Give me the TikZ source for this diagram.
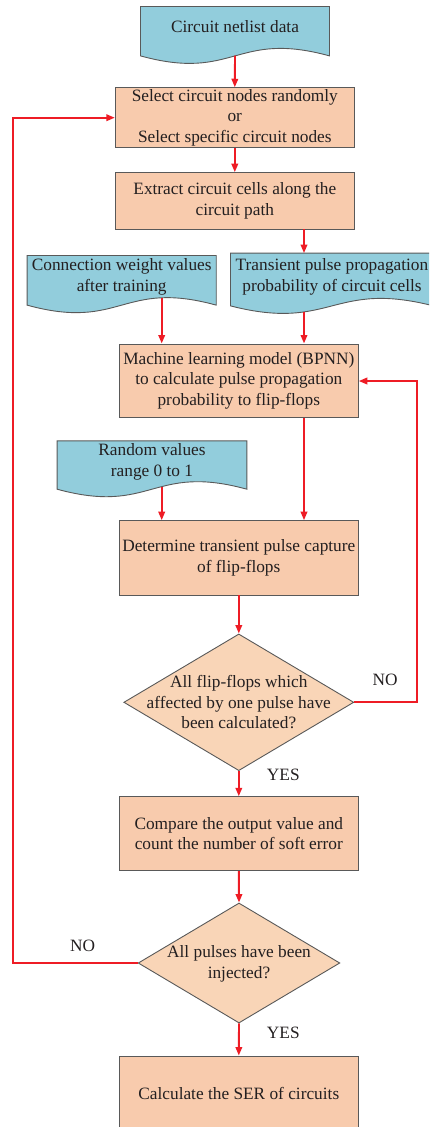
\documentclass[tikz,border=0pt]{standalone}
\usepackage{fontspec}
\setmainfont{Liberation Serif}
\usetikzlibrary{arrows.meta,calc,shapes.geometric}
\definecolor{docblue}{HTML}{92CDDC}
\definecolor{procorange}{HTML}{F8CBAD}
\definecolor{decorange}{HTML}{F9D5B7}
\definecolor{edgegray}{HTML}{595959}
\definecolor{flowred}{HTML}{EE1C25}
\definecolor{inkcol}{HTML}{231F20}
% wavy-bottomed document symbol drawn around an empty frame node
\newcommand\docshape[1]{%
  \filldraw[docfill] (#1.north west) -- (#1.north east) -- (#1.south east)
    .. controls ($(#1.south)+(0,-26)$) and ($(#1.south)+(0,26)$) .. (#1.south west) -- cycle;}
\begin{document}
\begin{tikzpicture}[x=1pt,y=-1pt,
  every node/.style={font=\fontsize{17.3}{20.7}\selectfont, text=inkcol},
  txt/.style={align=center, inner sep=0pt},
  frame/.style={draw=none, inner sep=0pt},
  docfill/.style={fill=docblue, draw=edgegray, line width=0.9pt},
  process/.style={rectangle, draw=edgegray, fill=procorange, line width=0.9pt,
    minimum width=239pt, align=center, inner sep=0pt},
  decision/.style={diamond, draw=edgegray, fill=decorange, line width=0.9pt, inner sep=0pt},
  arr/.style={draw=flowred, line width=1.9pt, -{Triangle[length=8.5pt,width=6.5pt]}},
  tag/.style={inner sep=0pt}]
\clip (0,0) rectangle (429,1127);

% document symbols
\node[frame, minimum width=188.6pt, minimum height=49pt] (netb) at (235,31.2) {};
\docshape{netb}
\node[txt] (net) at (235,26.7) {Circuit netlist data};

\node[frame, minimum width=188.7pt, minimum height=49.3pt] (connb) at (121.7,280.3) {};
\docshape{connb}
\node[txt] (conn) at (121.7,277.2) {Connection weight values\\after training};

\node[frame, minimum width=202.6pt, minimum height=52.4pt] (transb) at (332,279.5) {};
\docshape{transb}
\node[txt] (trans) at (332,277) {Transient pulse propagation\\probability of circuit cells};

\node[frame, minimum width=189.4pt, minimum height=48pt] (randb) at (152,465) {};
\docshape{randb}
\node[txt] (rand) at (152,462) {Random values\\range 0 to 1};

% process boxes
\node[process, minimum height=60pt] (sel) at (234.8,117.7)
  {Select circuit nodes randomly\\or\\Select specific circuit nodes};
\node[process, minimum height=56.3pt] (ext) at (234.8,200.8)
  {Extract circuit cells along the\\circuit path};
\node[process, minimum height=73.7pt] (ml) at (238.8,380.8)
  {Machine learning model (BPNN)\\to calculate pulse propagation\\probability to flip-flops};
\node[process, minimum height=74.3pt] (det) at (238.8,557.8)
  {Determine transient pulse capture\\of flip-flops};
\node[process, minimum height=74pt] (cmp) at (238.8,833.7)
  {Compare the output value and\\count the number of soft error};
\node[process, minimum height=74pt] (ser) at (238.8,1093)
  {Calculate the SER of circuits};

% decisions
\node[decision, minimum width=230pt, minimum height=136.7pt] (d1) at (238.8,702.3) {};
\node[txt] (d1t) at (d1.center) {All flip-flops which\\affected by one pulse have\\been calculated?};
\node[decision, minimum width=201.7pt, minimum height=120pt] (d2) at (239,963) {};
\node[txt] (d2t) at (239,964) {All pulses have been\\injected?};

% branch labels
\node[tag] (no1) at (385,680) {NO};
\node[tag] (yes1) at (283.3,775) {YES};
\node[tag] (no2) at (82.7,946) {NO};
\node[tag] (yes2) at (283.3,1033.3) {YES};

% connector anchor points
\coordinate (netout) at (235,55.7);
\coordinate (connout) at (161.7,297.6);
\coordinate (transout) at (304,311.7);
\coordinate (randout) at (161.7,486.5);
\coordinate (colR) at (304,0);
\coordinate (loopR) at (416.7,381);
\coordinate (loopL) at (12.7,117.7);

% connectors
\draw[arr] (netout) -- (sel.north);
\draw[arr] (sel.south) -- (ext.south |- sel.south) -- (ext.north);
\draw[arr] (ext.south -| colR) -- (transb.north -| colR);
\draw[arr] (connout) -- (connout |- ml.north);
\draw[arr] (transout) -- (transout |- ml.north);
\draw[arr] (ml.south -| colR) -- (det.north -| colR);
\draw[arr] (randout) -- (randout |- det.north);
\draw[arr] (det.south) -- (d1.north);
\draw[arr] (d1.east) -| (loopR) -- (ml.east |- loopR);
\draw[arr] (d1.south) -- (cmp.north);
\draw[arr] (cmp.south) -- (d2.north);
\draw[arr] (d2.west) -| (loopL) -- (sel.west |- loopL);
\draw[arr] (d2.south) -- (ser.north);
\end{tikzpicture}
\end{document}
